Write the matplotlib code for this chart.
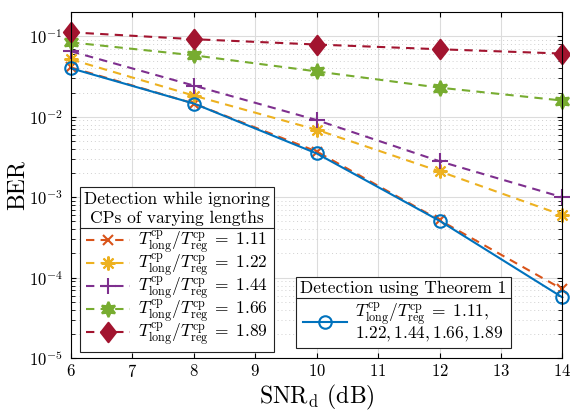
import numpy as np
import matplotlib.pyplot as plt
from matplotlib.lines import Line2D
from matplotlib.path import Path

plt.rcParams['font.family'] = 'serif'
plt.rcParams['font.serif'] = ['cmr10']
plt.rcParams['mathtext.fontset'] = 'cm'
plt.rcParams['axes.formatter.use_mathtext'] = True

# data
snr = [6, 8, 10, 12, 14]
ber_111 = [0.041, 0.0146, 0.0037, 0.00052, 7.2e-5]
ber_122 = [0.0516, 0.0183, 0.0069, 0.0021, 0.00060]
ber_144 = [0.065, 0.0244, 0.0091, 0.0028, 0.00100]
ber_166 = [0.084, 0.058, 0.0366, 0.023, 0.0159]
ber_189 = [0.112, 0.092, 0.079, 0.069, 0.061]
ber_thm = [0.040, 0.0146, 0.0035, 0.00051, 5.7e-5]
ratios = ["1.11", "1.22", "1.44", "1.66", "1.89"]

colors = ['#D95319', '#EDB120', '#7E2F8E', '#77AC30', '#A2142F']
# MATLAB style diamond (a bit taller than wide)
diamond = Path([(0, 1), (0.78, 0), (0, -1), (-0.78, 0), (0, 1)],
               [Path.MOVETO, Path.LINETO, Path.LINETO, Path.LINETO, Path.CLOSEPOLY])
markers = ['x', (8, 2, 0), '+', (6, 1, 0), diamond]
msizes = [7, 10, 11, 11, 14]

fig = plt.figure(figsize=(5.7, 4.16), dpi=100)
ax = fig.add_axes([0.1246, 0.139, 0.862, 0.832])

lab = r"$T^{\rm cp}_{\rm long}/T^{\rm cp}_{\rm reg}\;=\;%s$"
ign = []
for ber, c, m, ms, r in zip([ber_111, ber_122, ber_144, ber_166, ber_189],
                            colors, markers, msizes, ratios):
    h, = ax.semilogy(snr, ber, color=c, ls=(0, (4, 3)), lw=1.5, marker=m,
                     ms=ms, mew=1.5, mfc=c, label=lab % r, clip_on=False)
    ign.append(h)

thm, = ax.semilogy(snr, ber_thm, color='#0072BD', lw=1.5, marker='o', ms=9,
                   mfc='none', mew=1.5, clip_on=False,
                   label=r"$T^{\rm cp}_{\rm long}/T^{\rm cp}_{\rm reg}\;=\;1.11,$" + "\n" +
                         r"$1.22, 1.44, 1.66, 1.89$")

ax.set_xlim(6, 14)
ax.set_ylim(1e-5, 0.2)
ax.set_xticks(range(6, 15))
ax.tick_params(which='both', direction='in', top=True, right=True, labelsize=12)
ax.tick_params(axis='y', which='major', pad=6)
ax.tick_params(which='minor', length=3)
ax.grid(True, which='major', color='#dcdcdc', lw=0.8)
ax.grid(True, which='minor', axis='y', color='#d0d0d0', ls=(0, (1, 3)), lw=0.7)
ax.set_axisbelow(True)
ax.set_xlabel(r"SNR$_{\rm d}$ (dB)", fontsize=17, labelpad=2)
ax.set_ylabel("BER", fontsize=17, labelpad=0)

leg1 = ax.legend(handles=ign, loc='lower left', bbox_to_anchor=(0.018, 0.017),
                 title="Detection while ignoring\nCPs of varying lengths",
                 fontsize=12.5, title_fontsize=12.5, fancybox=False, edgecolor='#222222',
                 framealpha=1, borderpad=0.25, labelspacing=-0.27, handlelength=2.5,
                 handletextpad=0.5, borderaxespad=0, alignment='center')
leg1.get_frame().set_linewidth(0.8)
leg1.get_title().set_linespacing(1.3)
leg1.get_title().set_multialignment('center')
leg1._legend_box.sep = 2  # gap between title and entries
ax.add_artist(leg1)
leg2 = ax.legend(handles=[thm], loc='lower right', bbox_to_anchor=(0.895, 0.029),
                 title="Detection using Theorem 1", fontsize=12.5, title_fontsize=12.5,
                 fancybox=False, edgecolor='#222222', framealpha=1, borderpad=0.25,
                 handlelength=2.5, handletextpad=0.5, borderaxespad=0)
leg2.get_frame().set_linewidth(0.8)
leg2.get_texts()[0].set_linespacing(0.75)
leg2._legend_box.sep = 3

# separator line below each legend title
fig.canvas.draw()
inv = fig.transFigure.inverted()
for leg in (leg1, leg2):
    fb = leg.get_frame().get_window_extent()
    tb = leg.get_title().get_window_extent()
    y = tb.y0 - 2
    (x0, yy), (x1, _) = inv.transform([(fb.x0, y), (fb.x1, y)])
    fig.add_artist(Line2D([x0, x1], [yy, yy], color='#222222', lw=0.8, zorder=10))

fig.savefig("out.png", dpi=100)
